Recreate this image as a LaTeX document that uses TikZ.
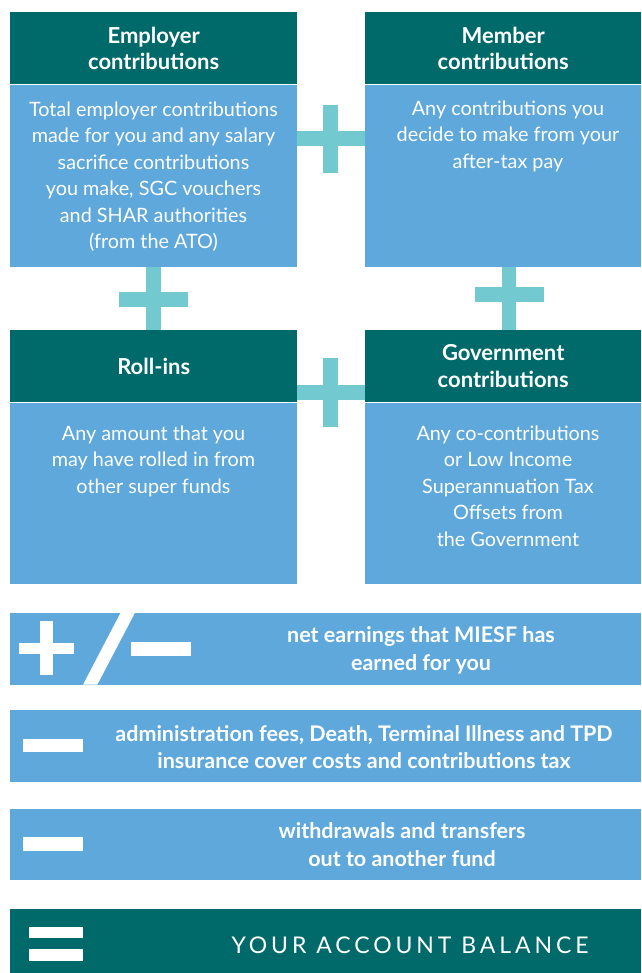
\documentclass[tikz,border=0pt]{standalone}
\usepackage{fontspec}
\setmainfont{Lato}
\usetikzlibrary{positioning}
\definecolor{darkteal}{RGB}{0,106,106}
\definecolor{boxblue}{RGB}{94,168,220}
\definecolor{pluscyan}{RGB}{114,202,208}
\begin{document}
\begin{tikzpicture}[x=1pt,y=-1pt,
  head/.style={fill=darkteal,text=white,font=\bfseries\fontsize{22}{26.5}\selectfont,align=center,anchor=north west,minimum height=72pt},
  body/.style={fill=boxblue},
  bodytext/.style={text=white,font=\fontsize{19.8}{26.5}\selectfont,align=center,anchor=north},
  bar/.style={fill=boxblue,anchor=north west,minimum width=631pt,minimum height=72pt},
  bartext/.style={text=white,font=\bfseries\fontsize{21.5}{27.5}\selectfont,align=center}]
\tikzstyle{every node}+=[inner sep=0pt]
\useasboundingbox (0,0) rectangle (641,973);
\coordinate (plusA) at (330.5,139);
\coordinate (plusB) at (153.5,299.5);
\coordinate (plusC) at (509,294);
\coordinate (plusD) at (330.5,392);
\fill [pluscyan] ([xshift=-34pt,yshift=-7.5pt]plusA) rectangle ([xshift=34pt,yshift=7.5pt]plusA);
\fill [pluscyan] ([xshift=-7.5pt,yshift=-34pt]plusA) rectangle ([xshift=7.5pt,yshift=34pt]plusA);
\fill [pluscyan] ([xshift=-34.5pt,yshift=-7.5pt]plusB) rectangle ([xshift=34.5pt,yshift=7.5pt]plusB);
\fill [pluscyan] ([xshift=-7.5pt,yshift=-40pt]plusB) rectangle ([xshift=7.5pt,yshift=40pt]plusB);
\fill [pluscyan] ([xshift=-34.5pt,yshift=-7.5pt]plusC) rectangle ([xshift=34.5pt,yshift=7.5pt]plusC);
\fill [pluscyan] ([xshift=-7pt,yshift=-40pt]plusC) rectangle ([xshift=7pt,yshift=40pt]plusC);
\fill [pluscyan] ([xshift=-34pt,yshift=-7.5pt]plusD) rectangle ([xshift=34pt,yshift=7.5pt]plusD);
\fill [pluscyan] ([xshift=-7.5pt,yshift=-34.5pt]plusD) rectangle ([xshift=7.5pt,yshift=34.5pt]plusD);
\node [head,minimum width=287pt] (emphead) at (10,12) {Employer\\contributions};
\node [body,minimum width=287pt,minimum height=182pt,below=0pt of emphead] (empbody) {};
\node [bodytext] (emptext) at (153.5,101.5) {Total employer contributions\\made for you and any salary\\sacrifice contributions\\you make, SGC vouchers\\and SHAR authorities\\(from the ATO)};
\node [head,minimum width=276pt] (memhead) at (365,12) {Member\\contributions};
\node [body,minimum width=276pt,minimum height=182pt,below=0pt of memhead] (membody) {};
\node [bodytext] (memtext) at (508,100.5) {Any contributions you\\decide to make from your\\after-tax pay};
\node [head,minimum width=287pt] (rollhead) at (10,330) {Roll-ins};
\node [body,minimum width=287pt,minimum height=181pt,below=0pt of rollhead] (rollbody) {};
\node [bodytext] (rolltext) at (153.5,425.5) {Any amount that you\\may have rolled in from\\other super funds};
\node [head,minimum width=276pt] (govhead) at (365,330) {Government\\contributions};
\node [body,minimum width=276pt,minimum height=181pt,below=0pt of govhead] (govbody) {};
\node [bodytext] (govtext) at (508,425.5) {Any co-contributions\\or Low Income\\Superannuation Tax\\Offsets from\\the Government};
\node [bar] (earnbar) at (10,612.7) {};
\fill [white] (40,620.7) rectangle (53,675);
\fill [white] (19,642.7) rectangle (74,654);
\fill [white] (83,684.7) -- (97.3,684.7) -- (135,612.7) -- (120.6,612.7) -- cycle;
\fill [white] (131,641.7) rectangle (191,655.7);
\node [bartext] (earntext) at (421,650.5) {net earnings that MIESF has\\earned for you};
\node [bar] (feebar) at (10,710) {};
\fill [white] (23,739) rectangle (83,752.3);
\node [bartext] (feetext) at (364,747) {administration fees, Death, Terminal Illness and TPD\\insurance cover costs and contributions tax};
\node [bar,minimum height=71pt] (outbar) at (10,808.3) {};
\fill [white] (23,837.3) rectangle (83,850.7);
\node [bartext] (outtext) at (402,844.5) {withdrawals and transfers\\out to another fund};
\node [bar,fill=darkteal,minimum height=65pt] (totalbar) at (10,908.3) {};
\fill [white] (28.6,926.7) rectangle (83,937.7);
\fill [white] (28.6,949.3) rectangle (83,961);
\node [text=white,font=\fontsize{23}{27}\selectfont\addfontfeatures{LetterSpace=17}] (totaltext) at (410,945) {YOUR ACCOUNT BALANCE};
\end{tikzpicture}
\end{document}
